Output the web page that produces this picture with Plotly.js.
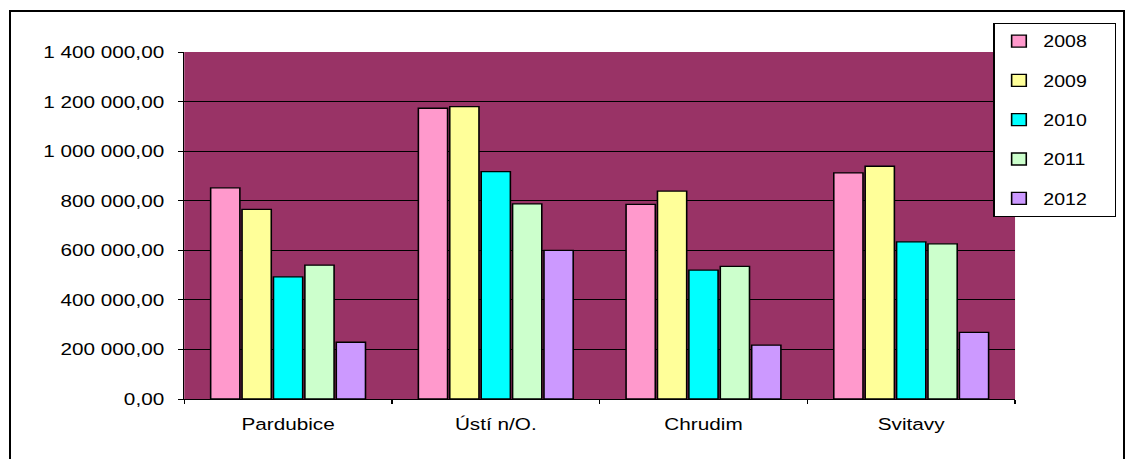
<!DOCTYPE html>
<html>
<head>
<meta charset="utf-8">
<script src="https://cdn.plot.ly/plotly-3.0.1.min.js"></script>
<style>
  html, body { margin: 0; padding: 0; background: #fff; overflow: hidden; }
  #wrap { position: relative; width: 1126px; height: 459px; overflow: hidden; }
  #chart { position: absolute; left: 0; top: 0; width: 923px; height: 459px;
           transform: scaleX(1.22); transform-origin: 0 0; }
  #frame { position: absolute; left: 9px; top: 10px; width: 1112px; height: 470px;
           border: 2px solid #000; pointer-events: none; }
</style>
</head>
<body>
<div id="wrap">
  <div id="chart"></div>
  <div id="frame"></div>
</div>
<script>
const categories = ["Pardubice", "Ústí n/O.", "Chrudim", "Svitavy"];
const years = ["2008", "2009", "2010", "2011", "2012"];
const v2008 = [852000, 1173000, 785000, 912000];
const v2009 = [765000, 1180000, 839000, 939000];
const v2010 = [493000, 917000, 520000, 634000];
const v2011 = [540000, 787000, 535000, 626000];
const v2012 = [229000, 600000, 217000, 269000];
const series = [v2008, v2009, v2010, v2011, v2012];
const colors = ["#FF99CC", "#FFFF99", "#00FFFF", "#CCFFCC", "#CC99FF"];
const tickVals = [0, 200000, 400000, 600000, 800000, 1000000, 1200000, 1400000];
const tickText = ["0,00", "200 000,00", "400 000,00", "600 000,00", "800 000,00",
                  "1 000 000,00", "1 200 000,00", "1 400 000,00"];

const font = { family: "Liberation Sans, Arial, sans-serif", size: 17, color: "#000" };

const traces = series.map((vals, i) => ({
  type: "bar",
  name: years[i] + "\u00a0\u00a0\u00a0\u00a0",
  legendgroup: years[i],
  x: categories,
  y: vals,
  marker: { color: colors[i], line: { color: "#000", width: 1.3 } },
  hoverinfo: "skip"
}));

const W = 923, L = 150.8, R = 91, T = 52, B = 60;
const pw = W - L - R, ph = 459 - T - B;

const layout = {
  width: W, height: 459,
  margin: { l: L, r: R, t: T, b: B, pad: 0, autoexpand: false },
  paper_bgcolor: "#fff",
  plot_bgcolor: "#993366",
  font: font,
  barmode: "group",
  bargap: 0.244,
  bargroupgap: 0.07,
  showlegend: true,
  legend: {
    x: (814 - L) / pw, xanchor: "left",
    y: (399 - 23) / ph, yanchor: "top",
    bgcolor: "#fff", bordercolor: "#000", borderwidth: 1.2,
    font: { family: font.family, size: 16, color: "#000" },
    tracegroupgap: 15.5,
    itemwidth: 30
  },
  xaxis: {
    type: "category",
    showgrid: false,
    showline: true, linecolor: "#000", linewidth: 1,
    ticks: "outside", tickson: "boundaries", ticklen: 4, tickcolor: "#000",
    ticklabelstandoff: 10,
    tickfont: font,
    fixedrange: true
  },
  yaxis: {
    range: [0, 1400000],
    tickmode: "array", tickvals: tickVals, ticktext: tickText,
    showgrid: true, gridcolor: "#000", gridwidth: 1,
    zeroline: false,
    showline: true, linecolor: "#000", linewidth: 1,
    ticks: "outside", ticklen: 4, tickcolor: "#000",
    ticklabelstandoff: 8,
    tickfont: font,
    fixedrange: true
  }
};

Plotly.newPlot("chart", traces, layout, { displayModeBar: false, staticPlot: true });
</script>
</body>
</html>
